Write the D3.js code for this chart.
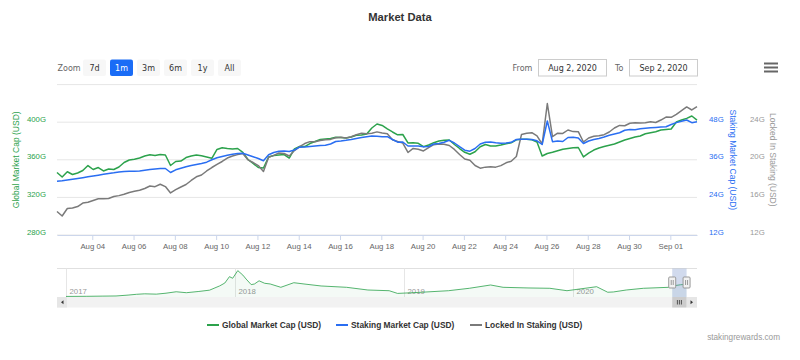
<!DOCTYPE html>
<html><head><meta charset="utf-8">
<script src="https://cdn.jsdelivr.net/npm/d3@7"></script>
<style>
html,body{margin:0;padding:0;background:#fff;}
svg{display:block;font-family:"Liberation Sans",Arial,sans-serif;}
</style></head>
<body>
<svg id="chart" width="800" height="360"></svg>
<script>
// ---------- DATA ----------
const chartTitle = "Market Data";
const startTime = "2020-08-02T07:00:00";
const stepHours = 6;
const seriesNames = ["Global Market Cap (USD)", "Staking Market Cap (USD)", "Locked In Staking (USD)"];
// billions of USD
const globalMarketCap = [
346.5,341.7,347.3,344.4,346.0,348.6,353.9,349.7,351.8,348.1,
350.2,349.7,352.3,357.1,359.8,360.5,361.9,364.0,365.3,364.6,
365.6,365.1,353.9,358.2,358.7,362.4,364.0,365.1,364.3,363.0,
361.6,371.0,372.8,372.0,371.5,372.0,367.8,360.3,356.1,351.8,
351.3,363.0,364.6,365.1,365.6,361.9,371.5,374.1,374.1,377.3,
379.5,381.6,382.1,382.7,383.9,383.7,383.2,384.3,386.2,386.4,
387.4,393.8,398.1,396.5,392.8,389.6,386.6,386.9,377.9,378.2,
377.6,373.9,375.7,378.2,380.0,380.9,381.1,376.3,372.0,368.0,
365.9,368.6,373.9,376.3,374.7,374.7,375.7,377.0,378.1,381.3,
381.8,381.8,381.3,378.9,364.0,366.7,368.0,369.6,371.3,372.0,
372.8,373.1,363.0,367.0,370.4,372.6,374.1,375.4,376.8,378.9,
381.1,382.7,384.3,385.3,387.7,388.7,389.8,391.7,392.2,392.8,
400.2,402.3,404.1,406.6,402.3];
const stakingMarketCap = [
29.14,29.30,29.56,29.78,30.03,30.29,30.58,30.83,31.09,31.37,
31.63,31.85,32.11,32.24,32.33,32.36,32.46,32.65,32.87,33.07,
33.19,33.23,31.95,32.81,33.29,33.80,34.18,34.50,34.85,35.24,
36.00,36.64,37.05,37.47,37.76,38.04,38.11,37.53,36.99,36.42,
35.71,37.60,38.33,38.71,38.84,38.65,39.13,40.02,40.12,40.25,
40.41,40.53,40.66,41.04,41.84,42.00,42.22,42.48,42.83,43.15,
43.37,43.60,43.50,43.37,43.37,42.48,41.62,41.68,40.41,40.37,
40.41,40.15,40.25,41.04,41.20,41.59,42.22,41.36,40.18,39.07,
38.75,39.61,41.04,41.62,41.68,41.46,41.30,41.36,41.59,42.48,
42.54,42.54,42.48,42.06,40.88,48.38,41.78,42.00,41.84,43.12,
43.18,42.96,41.20,42.00,42.48,42.80,43.28,43.82,44.23,44.62,
45.42,45.64,45.57,45.89,46.09,46.21,46.34,46.47,46.56,47.27,
47.87,48.29,48.70,47.84,48.16];
const lockedInStaking = [
14.50,14.02,14.82,14.87,15.03,15.40,15.48,15.67,15.85,15.85,
15.88,16.09,16.19,16.33,16.52,16.65,16.76,16.95,17.21,17.14,
17.40,17.15,16.47,16.82,17.11,17.37,17.80,18.19,18.38,18.81,
19.18,19.52,19.82,20.19,20.40,20.55,20.68,20.00,19.71,19.39,
18.76,20.28,20.47,20.72,20.67,20.40,20.98,21.41,21.73,21.93,
21.93,22.06,22.13,22.17,22.35,22.41,22.32,22.45,22.67,22.82,
22.77,22.82,22.97,22.85,22.77,22.13,21.94,21.78,20.78,21.21,
21.12,20.94,21.30,21.61,21.68,21.65,21.52,21.10,20.56,20.09,
19.95,19.39,19.11,19.22,19.27,19.22,19.38,19.68,19.85,20.35,
22.70,22.83,22.88,22.54,21.68,25.99,22.46,22.83,22.80,23.17,
23.00,22.99,21.89,22.32,22.50,22.55,22.67,22.96,23.38,23.66,
23.62,23.89,23.95,23.91,23.94,24.04,23.97,24.23,24.55,24.52,
24.84,25.24,25.62,25.30,25.65];
const xTickDates = ["2020-08-04","2020-08-06","2020-08-08","2020-08-10","2020-08-12","2020-08-14","2020-08-16",
  "2020-08-18","2020-08-20","2020-08-22","2020-08-24","2020-08-26","2020-08-28","2020-08-30","2020-09-01"];
const leftTicks = [280, 320, 360, 400, 440];
const stakingTicks = [12, 24, 36, 48, 60];
const lockedTicks = [12, 16, 20, 24, 28];
const zoomButtons = ["7d", "1m", "3m", "6m", "1y", "All"];
const selectedZoom = "1m";
const fromText = "Aug 2, 2020";
const toText = "Sep 2, 2020";
const creditText = "stakingrewards.com";
// navigator: global market cap history (billions USD)
const navDates = ["2017-01-01","2017-02-15","2017-03-20","2017-04-19","2017-05-15","2017-06-02","2017-06-20","2017-07-15",
  "2017-08-05","2017-08-27","2017-09-18","2017-10-15","2017-11-07","2017-11-29","2017-12-10","2017-12-20","2017-12-27",
  "2018-01-07","2018-01-18","2018-01-25","2018-02-05","2018-02-12","2018-02-22","2018-03-06","2018-03-18","2018-04-10",
  "2018-05-08","2018-05-30","2018-07-06","2018-08-30","2018-10-15","2018-11-30","2018-12-18","2019-02-02","2019-04-07",
  "2019-05-22","2019-07-07","2019-08-03","2019-09-28","2019-11-12","2019-12-19","2020-02-21","2020-03-16","2020-03-28",
  "2020-04-25","2020-06-01","2020-07-26","2020-08-02","2020-08-20","2020-09-02"];
const navValues = [18,22,28,32,60,85,100,90,120,165,135,175,215,350,440,640,590,830,690,565,390,410,510,432,410,305,
  450,410,347,305,220,198,113,145,198,274,378,305,284,274,198,324,150,158,220,274,305,345,385,402];
const navYears = ["2017", "2018", "2019", "2020"];

// ---------- LAYOUT / STYLE ----------
const colors = ["#2ca24c", "#2a6ef2", "#7a7a7a"];
const P = {left: 57, right: 697, top: 84.6, bottom: 235};
const svg = d3.select("#chart");
const parseT = d3.timeParse("%Y-%m-%dT%H:%M:%S");
const parseD = d3.timeParse("%Y-%m-%d");
const t0 = parseT(startTime);
const times = globalMarketCap.map((_, i) => d3.timeHour.offset(t0, i * stepHours));
const tEnd = times[times.length - 1];

const x = d3.scaleTime().domain([t0, tEnd]).range([P.left, P.right]);
const yL = d3.scaleLinear().domain([280, 440]).range([P.bottom, P.top]);
const yB = d3.scaleLinear().domain([12, 60]).range([P.bottom, P.top]);
const yK = d3.scaleLinear().domain([12, 28]).range([P.bottom, P.top]);

// title
svg.append("text").attr("x", 400).attr("y", 21).attr("text-anchor", "middle")
  .attr("font-size", 11.2).attr("font-weight", "bold").attr("fill", "#333").text(chartTitle);

// range selector
const rs = svg.append("g").attr("font-family", "'DejaVu Sans',sans-serif").attr("font-size", 8);
rs.append("text").attr("x", 57.5).attr("y", 70.5).attr("fill", "#666").text("Zoom");
zoomButtons.forEach((b, i) => {
  const bx = 83 + i * 27, sel = b === selectedZoom;
  rs.append("rect").attr("x", bx).attr("y", 59.5).attr("width", 23).attr("height", 16.5).attr("rx", 2)
    .attr("fill", sel ? "#1a6cf6" : "#f7f7f7");
  rs.append("text").attr("x", bx + 11.5).attr("y", 70.5).attr("text-anchor", "middle")
    .attr("fill", sel ? "#fff" : "#333").text(b);
});
rs.append("text").attr("x", 512.5).attr("y", 70.5).attr("fill", "#666").text("From");
rs.append("rect").attr("x", 538.5).attr("y", 59.5).attr("width", 68).attr("height", 16.5)
  .attr("fill", "#fff").attr("stroke", "#cccccc");
rs.append("text").attr("x", 572.5).attr("y", 70.5).attr("text-anchor", "middle").attr("fill", "#333").text(fromText);
rs.append("text").attr("x", 615).attr("y", 70.5).attr("fill", "#666").text("To");
rs.append("rect").attr("x", 629.5).attr("y", 59.5).attr("width", 68).attr("height", 16.5)
  .attr("fill", "#fff").attr("stroke", "#cccccc");
rs.append("text").attr("x", 663.5).attr("y", 70.5).attr("text-anchor", "middle").attr("fill", "#333").text(toText);

// menu icon
[63.5, 67.5, 71.5].forEach(yy => svg.append("line").attr("x1", 764).attr("x2", 778)
  .attr("y1", yy).attr("y2", yy).attr("stroke", "#666").attr("stroke-width", 2));

// gridlines
svg.append("g").selectAll("line").data(leftTicks).join("line")
  .attr("x1", P.left).attr("x2", P.right).attr("y1", d => yL(d)).attr("y2", d => yL(d))
  .attr("stroke", "#e6e6e6").attr("stroke-width", 1);

// x axis
const xAxis = svg.append("g").attr("transform", `translate(0,${P.bottom})`)
  .call(d3.axisBottom(x).tickValues(xTickDates.map(parseD)).tickFormat(d3.timeFormat("%b %d"))
    .tickSize(5).tickSizeOuter(0).tickPadding(3));
xAxis.select(".domain").attr("stroke", "#ccd6eb");
xAxis.selectAll(".tick line").attr("stroke", "#ccd6eb");
xAxis.selectAll(".tick text").attr("fill", "#666").attr("font-size", 7.8).attr("font-family", null);

function styleY(g, color) {
  g.select(".domain").remove();
  g.selectAll(".tick text").attr("fill", color).attr("font-size", 7.8).attr("font-family", null).attr("y", -3.5);
}
const gL = svg.append("g").attr("transform", `translate(${P.left},0)`)
  .call(d3.axisLeft(yL).tickValues(leftTicks.slice(0, -1)).tickSize(0).tickPadding(11).tickFormat(d => d + "G"));
styleY(gL, colors[0]);
const gB = svg.append("g").attr("transform", `translate(${P.right},0)`)
  .call(d3.axisRight(yB).tickValues(stakingTicks.slice(0, -1)).tickSize(0).tickPadding(12).tickFormat(d => d + "G"));
styleY(gB, colors[1]);
const gK = svg.append("g").attr("transform", `translate(${P.right},0)`)
  .call(d3.axisRight(yK).tickValues(lockedTicks.slice(0, -1)).tickSize(0).tickPadding(53).tickFormat(d => d + "G"));
styleY(gK, "#999");

// axis titles
const midY = (P.top + P.bottom) / 2;
svg.append("text").attr("transform", `translate(16,${midY}) rotate(-90)`).attr("text-anchor", "middle")
  .attr("dy", "0.35em").attr("font-size", 8.5).attr("fill", colors[0]).text(seriesNames[0]);
svg.append("text").attr("transform", `translate(732.5,${midY}) rotate(90)`).attr("text-anchor", "middle")
  .attr("dy", "0.35em").attr("font-size", 8.5).attr("fill", colors[1]).text(seriesNames[1]);
svg.append("text").attr("transform", `translate(773,${midY}) rotate(90)`).attr("text-anchor", "middle")
  .attr("dy", "0.35em").attr("font-size", 8.5).attr("fill", "#999").text(seriesNames[2]);

// series lines
const seriesDefs = [
  {vals: globalMarketCap, y: yL, c: colors[0]},
  {vals: lockedInStaking, y: yK, c: colors[2]},
  {vals: stakingMarketCap, y: yB, c: colors[1]}
];
seriesDefs.forEach(s => {
  const line = d3.line().x((d, i) => x(times[i])).y(d => s.y(d));
  svg.append("path").datum(s.vals).attr("d", line).attr("fill", "none")
    .attr("stroke", s.c).attr("stroke-width", 1.5).attr("stroke-linejoin", "round");
});

// navigator
const N = {top: 268.5, bottom: 297};
const navX = d3.scaleTime().domain([parseD("2017-01-01"), parseD("2020-01-01")]).range([66, 573]);
const navY = d3.scaleLinear().domain([0, 850]).range([N.bottom, 270]);
const nav = svg.append("g");
nav.append("line").attr("x1", P.left).attr("x2", P.right).attr("y1", N.top).attr("y2", N.top)
  .attr("stroke", "#e0e0e0");
navYears.forEach(yr => {
  const xx = Math.round(navX(parseD(yr + "-01-01"))) + 0.5;
  nav.append("line").attr("x1", xx).attr("x2", xx).attr("y1", N.top).attr("y2", N.bottom).attr("stroke", "#e6e6e6");
  nav.append("text").attr("x", xx + 3).attr("y", 294).attr("font-size", 7.8).attr("fill", "#999").text(yr);
});
const navPts = navDates.map((d, i) => ({t: parseD(d), v: navValues[i]}));
nav.append("path").datum(navPts)
  .attr("d", d3.area().x(d => navX(d.t)).y0(N.bottom).y1(d => navY(d.v)))
  .attr("fill", colors[0]).attr("fill-opacity", 0.05);
nav.append("path").datum(navPts)
  .attr("d", d3.line().x(d => navX(d.t)).y(d => navY(d.v)))
  .attr("fill", "none").attr("stroke", colors[0]).attr("stroke-opacity", 0.8).attr("stroke-width", 1);
const mx0 = navX(t0), mx1 = navX(tEnd);
nav.append("rect").attr("x", mx0).attr("y", N.top).attr("width", mx1 - mx0).attr("height", N.bottom - N.top)
  .attr("fill", "rgba(102,133,194,0.3)");
[mx0, mx1].forEach(hx => {
  nav.append("rect").attr("x", hx - 3.5).attr("y", 277).attr("width", 7).attr("height", 11).attr("rx", 1)
    .attr("fill", "#f2f2f2").attr("stroke", "#999");
  [-1, 1].forEach(o => nav.append("line").attr("x1", hx + o).attr("x2", hx + o).attr("y1", 280).attr("y2", 285)
    .attr("stroke", "#999"));
});
// scrollbar
const sb = {y: 297, h: 10.5};
nav.append("rect").attr("x", P.left).attr("y", sb.y).attr("width", P.right - P.left).attr("height", sb.h).attr("fill", "#f2f2f2");
nav.append("rect").attr("x", P.left).attr("y", sb.y).attr("width", 10).attr("height", sb.h).attr("fill", "#e6e6e6");
nav.append("rect").attr("x", P.right - 10).attr("y", sb.y).attr("width", 10).attr("height", sb.h).attr("fill", "#e6e6e6");
nav.append("path").attr("d", `M${P.left + 4},${sb.y + 5.25} l2.5,-2 v4 z`).attr("fill", "#333");
nav.append("path").attr("d", `M${P.right - 4},${sb.y + 5.25} l-2.5,-2 v4 z`).attr("fill", "#333");
nav.append("rect").attr("x", mx0).attr("y", sb.y).attr("width", mx1 - mx0).attr("height", sb.h).attr("fill", "#cccccc");
const gc = (mx0 + mx1) / 2;
[-2, 0, 2].forEach(o => nav.append("line").attr("x1", gc + o).attr("x2", gc + o)
  .attr("y1", sb.y + 3).attr("y2", sb.y + 7.5).attr("stroke", "#333").attr("stroke-width", 0.8));

// legend
const legendX = [207, 336, 470];
seriesNames.forEach((n, i) => {
  const lx = legendX[i];
  svg.append("line").attr("x1", lx).attr("x2", lx + 12).attr("y1", 325).attr("y2", 325)
    .attr("stroke", colors[i]).attr("stroke-width", 2);
  svg.append("text").attr("x", lx + 15).attr("y", 328).attr("font-size", 8.4).attr("font-weight", "bold")
    .attr("fill", "#333").text(n);
});

// credits
svg.append("text").attr("x", 780).attr("y", 340).attr("text-anchor", "end").attr("font-size", 8.2)
  .attr("fill", "#999").text(creditText);
</script>
</body></html>
